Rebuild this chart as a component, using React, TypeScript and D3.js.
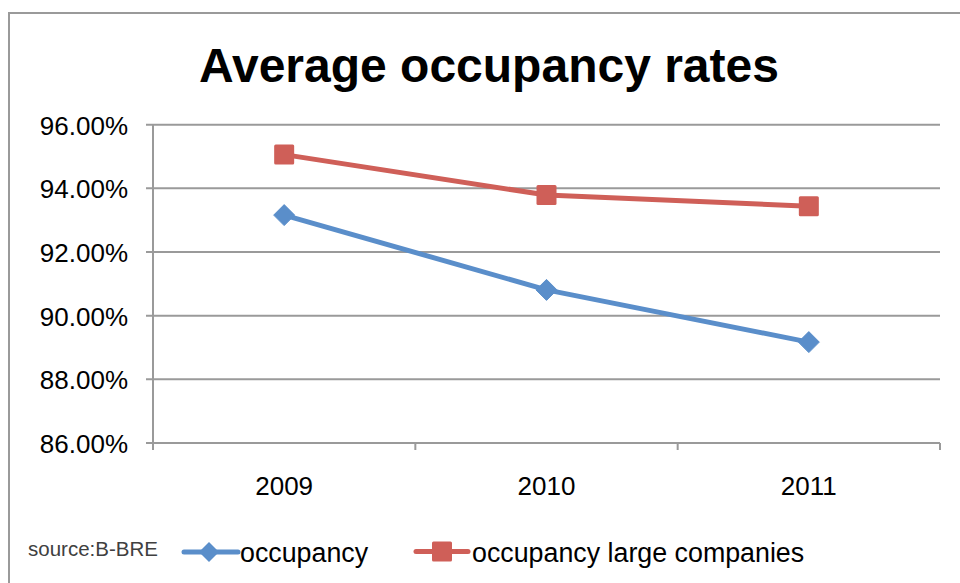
import React from "react";
import * as d3 from "d3";

const categories = ["2009", "2010", "2011"];
const occupancy = [0.9316, 0.9081, 0.8917];
const occupancyLarge = [0.9506, 0.9379, 0.9344];
const yTicks = [0.86, 0.88, 0.9, 0.92, 0.94, 0.96];
const title = "Average occupancy rates";
const seriesNames = ["occupancy", "occupancy large companies"];
const sourceNote = "source:B-BRE";

const BLUE = "#5A8ECA";
const RED = "#CF5F58";
const GRID = "#9a9a9a";
const FONT = "'Liberation Sans', Arial, sans-serif";

export default function App() {
  const W = 960;
  const H = 583;
  const x = d3.scaleBand<string>().domain(categories).range([153, 940]).padding(0);
  const y = d3.scaleLinear().domain([0.86, 0.96]).range([443, 124.7]);
  const cx = (c: string) => (x(c) as number) + x.bandwidth() / 2;
  const fmt = d3.format(".2%");

  const line = d3
    .line<number>()
    .x((_, i) => cx(categories[i]))
    .y((d) => y(d));

  const diamond = (px: number, py: number, r: number) =>
    `M${px},${py - r}L${px + r},${py}L${px},${py + r}L${px - r},${py}Z`;

  const xTickPositions = [...categories.map((c) => x(c) as number), 940];

  return (
    <svg
      width={W}
      height={H}
      style={{ position: "absolute", left: 0, top: 0, background: "#fff" }}
      fontFamily={FONT}
    >
      <rect x={0} y={0} width={W} height={H} fill="#fff" />
      <rect x={9} y={13} width={1000} height={700} fill="none" stroke={GRID} strokeWidth={2} />
      <text x={489} y={82} textAnchor="middle" fontSize={48} fontWeight="bold" fill="#000">
        {title}
      </text>

      {/* grid lines + y ticks */}
      {yTicks.map((t) => (
        <g key={t}>
          <line x1={146} x2={940} y1={y(t)} y2={y(t)} stroke={GRID} strokeWidth={2} />
          <text x={128} y={y(t) + 10} textAnchor="end" fontSize={26} fill="#000">
            {fmt(t)}
          </text>
        </g>
      ))}
      {/* y axis */}
      <line x1={153} x2={153} y1={124} y2={450} stroke={GRID} strokeWidth={2} />
      {/* x ticks */}
      {xTickPositions.map((p, i) => (
        <line key={i} x1={p} x2={p} y1={443} y2={450} stroke={GRID} strokeWidth={2} />
      ))}
      {categories.map((c) => (
        <text key={c} x={cx(c)} y={495} textAnchor="middle" fontSize={26} fill="#000">
          {c}
        </text>
      ))}

      {/* series lines */}
      <path d={line(occupancyLarge) || ""} fill="none" stroke={RED} strokeWidth={5} strokeLinejoin="round" />
      <path d={line(occupancy) || ""} fill="none" stroke={BLUE} strokeWidth={5} strokeLinejoin="round" />
      {occupancyLarge.map((v, i) => (
        <rect
          key={i}
          x={cx(categories[i]) - 10}
          y={y(v) - 10}
          width={20}
          height={20}
          rx={1.5}
          fill={RED}
        />
      ))}
      {occupancy.map((v, i) => (
        <path key={i} d={diamond(cx(categories[i]), y(v), 10.5)} fill={BLUE} stroke={BLUE} strokeWidth={1} strokeLinejoin="round" />
      ))}

      {/* legend */}
      <text x={28} y={556} fontSize={20.5} fill="#404040">
        {sourceNote}
      </text>
      <line x1={184} x2={238} y1={552} y2={552} stroke={BLUE} strokeWidth={5} strokeLinecap="round" />
      <path d={diamond(209, 552, 10)} fill={BLUE} />
      <text x={240} y={562} fontSize={26.8} fill="#000">
        {seriesNames[0]}
      </text>
      <line x1={416} x2={468} y1={551.5} y2={551.5} stroke={RED} strokeWidth={5} strokeLinecap="round" />
      <rect x={432} y={541.5} width={20} height={20} rx={1.5} fill={RED} />
      <text x={472} y={562} fontSize={26.8} fill="#000">
        {seriesNames[1]}
      </text>
    </svg>
  );
}
